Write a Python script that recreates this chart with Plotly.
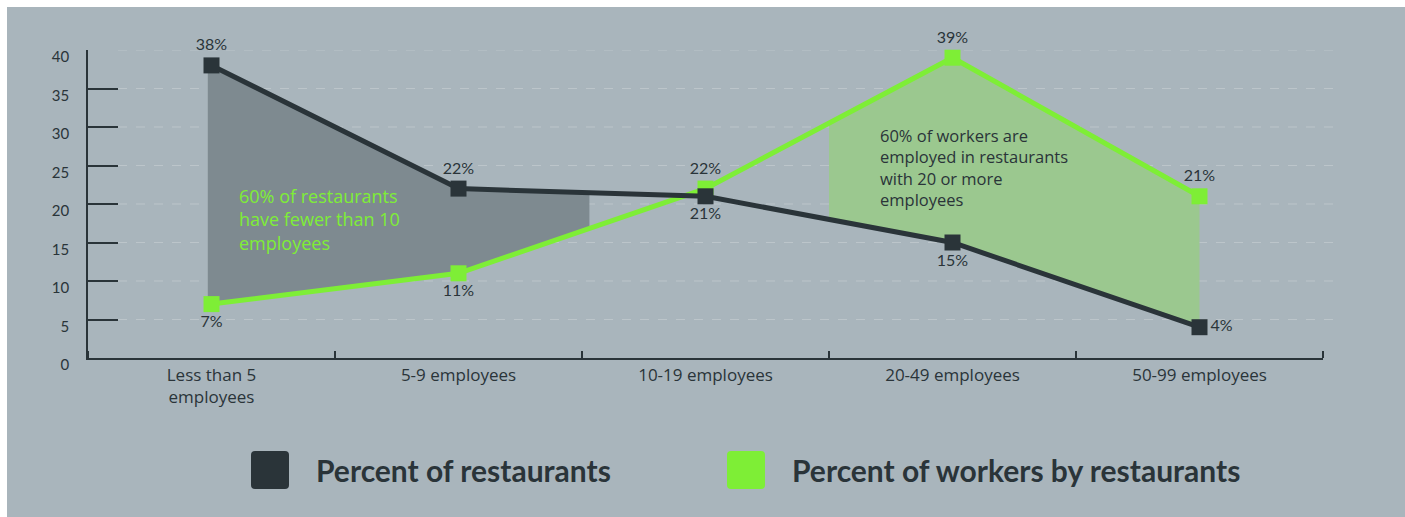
import numpy as np
import plotly.graph_objects as go

# ---------------- data ----------------
categories = ["Less than 5<br>employees", "5-9 employees", "10-19 employees",
              "20-49 employees", "50-99 employees"]
pct_restaurants = [38, 22, 21, 15, 4]
pct_workers = [7, 11, 22, 39, 21]
y_ticks = [0, 5, 10, 15, 20, 25, 30, 35, 40]
series_names = ["Percent of restaurants", "Percent of workers by restaurants"]
note_restaurants = "60% of restaurants<br>have fewer than 10<br>employees"
note_workers = "60% of workers are<br>employed in restaurants<br>with 20 or more<br>employees"

# ---------------- style ----------------
DARK = "#2a3439"
GREEN = "#7eee36"
BG = "#a9b5bc"
DARK_FILL = "#7e8a90"
GREEN_FILL = "#9bc88f"
FONT = "Lato"
FONT2 = "Open Sans"

W, H = 1405, 517
ML, MR, MT, MB = 88, 82, 50, 159
PW, PH = W - ML - MR, H - MT - MB


def px_x(px):
    return (px - ML) / PW


def px_y(py):
    return (H - MB - py) / PH


idx = np.arange(len(categories))


def band(x0, x1, upper, lower):
    xs = [x0] + [float(i) for i in idx if x0 < i < x1] + [x1]
    up = np.interp(xs, idx, upper)
    lo = np.interp(xs, idx, lower)
    return xs + xs[::-1], list(up) + list(lo[::-1])


def rounded_rect(x0, y0, x1, y1, r):
    X = px_x
    Y = px_y
    return (f"M {X(x0 + r)} {Y(y0)} L {X(x1 - r)} {Y(y0)} Q {X(x1)} {Y(y0)} {X(x1)} {Y(y0 + r)} "
            f"L {X(x1)} {Y(y1 - r)} Q {X(x1)} {Y(y1)} {X(x1 - r)} {Y(y1)} "
            f"L {X(x0 + r)} {Y(y1)} Q {X(x0)} {Y(y1)} {X(x0)} {Y(y1 - r)} "
            f"L {X(x0)} {Y(y0 + r)} Q {X(x0)} {Y(y0)} {X(x0 + r)} {Y(y0)} Z")


fig = go.Figure()

# shaded bands between the two series
bx, by = band(-0.015, 1.53, pct_restaurants, pct_workers)
fig.add_trace(go.Scatter(x=bx, y=by, fill="toself", fillcolor=DARK_FILL,
                         mode="lines", line=dict(width=0), hoverinfo="skip",
                         showlegend=False))
gx, gy = band(2.5, 4.0, pct_workers, pct_restaurants)
fig.add_trace(go.Scatter(x=gx, y=gy, fill="toself", fillcolor=GREEN_FILL,
                         mode="lines", line=dict(width=0), hoverinfo="skip",
                         showlegend=False))

label_font = dict(family=FONT, size=16, color=DARK)
fig.add_trace(go.Scatter(
    x=idx, y=pct_workers, name=series_names[1], mode="lines+markers+text",
    line=dict(color=GREEN, width=5),
    marker=dict(symbol="square", size=16, color=GREEN),
    text=[f"{v}%" for v in pct_workers],
    textposition=["bottom center", "bottom center", "top center", "top center", "top center"],
    textfont=label_font, cliponaxis=False, showlegend=False))
fig.add_trace(go.Scatter(
    x=idx, y=pct_restaurants, name=series_names[0], mode="lines+markers+text",
    line=dict(color=DARK, width=5),
    marker=dict(symbol="square", size=16, color=DARK),
    text=[f"{v}%" for v in pct_restaurants],
    textposition=["top center", "top center", "bottom center", "bottom center", "middle right"],
    textfont=label_font, cliponaxis=False, showlegend=False))

shapes = []
# background panel (white page margin at top and left)
shapes.append(dict(type="rect", xref="paper", yref="paper", layer="below",
                   x0=px_x(7), x1=px_x(W + 5), y0=px_y(H + 5), y1=px_y(7),
                   fillcolor=BG, line=dict(width=0)))
# dashed gridlines
for yv in y_ticks[1:]:
    shapes.append(dict(type="line", xref="paper", yref="y", layer="below",
                       x0=px_x(118), x1=px_x(1337), y0=yv, y1=yv,
                       line=dict(color="#bcc5ca", width=1, dash="dash")))

# legend swatches
legend_items = [(251, DARK), (727, GREEN)]
for lx, col in legend_items:
    shapes.append(dict(type="path", xref="paper", yref="paper",
                       path=rounded_rect(lx, 451, lx + 38, 489, 4),
                       fillcolor=col, line=dict(width=0)))

annotations = [
    dict(x=0.103, y=22.9, xref="x", yref="y", text=note_restaurants,
         showarrow=False, xanchor="left", yanchor="top", align="left",
         font=dict(family=FONT2, size=18, color=GREEN)),
    dict(x=2.698, y=30.6, xref="x", yref="y", text=note_workers,
         showarrow=False, xanchor="left", yanchor="top", align="left",
         font=dict(family=FONT2, size=16.5, color=DARK)),
]
for (lx, _), name in zip(legend_items, series_names):
    annotations.append(dict(x=px_x(lx + 63), y=px_y(470), xref="paper", yref="paper",
                            text=f"<b>{name}</b>", showarrow=False,
                            xanchor="left", yanchor="middle",
                            font=dict(family=FONT, size=30, color=DARK)))

boundaries = [i - 0.5 for i in range(len(categories) + 1)]

fig.update_layout(
    width=W, height=H,
    margin=dict(l=ML, r=MR, t=MT, b=MB),
    paper_bgcolor="white", plot_bgcolor="rgba(0,0,0,0)",
    shapes=shapes, annotations=annotations,
    showlegend=False,
    xaxis=dict(range=[-0.5, 4.5], tickmode="array", tickvals=list(idx),
               ticktext=categories, ticks="", showgrid=False, zeroline=False,
               showline=True, linecolor=DARK, linewidth=1.5,
               ticklabelstandoff=1,
               tickfont=dict(family=FONT2, size=17, color=DARK),
               minor=dict(tickmode="array", tickvals=boundaries, ticks="inside",
                          ticklen=7, tickwidth=1.5, tickcolor=DARK, showgrid=False)),
    yaxis=dict(range=[0, 40], tickmode="array", tickvals=y_ticks,
               ticks="inside", ticklen=30, tickwidth=1.5, tickcolor=DARK,
               showgrid=False, zeroline=False, showline=True,
               linecolor=DARK, linewidth=1.5,
               ticklabelshift=7, ticklabelstandoff=14,
               tickfont=dict(family=FONT, size=15, color=DARK)),
)

fig.write_html("out.html",
               config={"displayModeBar": False},
               post_script="document.body.style.margin='0';"
                           "document.documentElement.style.overflow='hidden';"
                           "document.body.style.overflow='hidden';")
